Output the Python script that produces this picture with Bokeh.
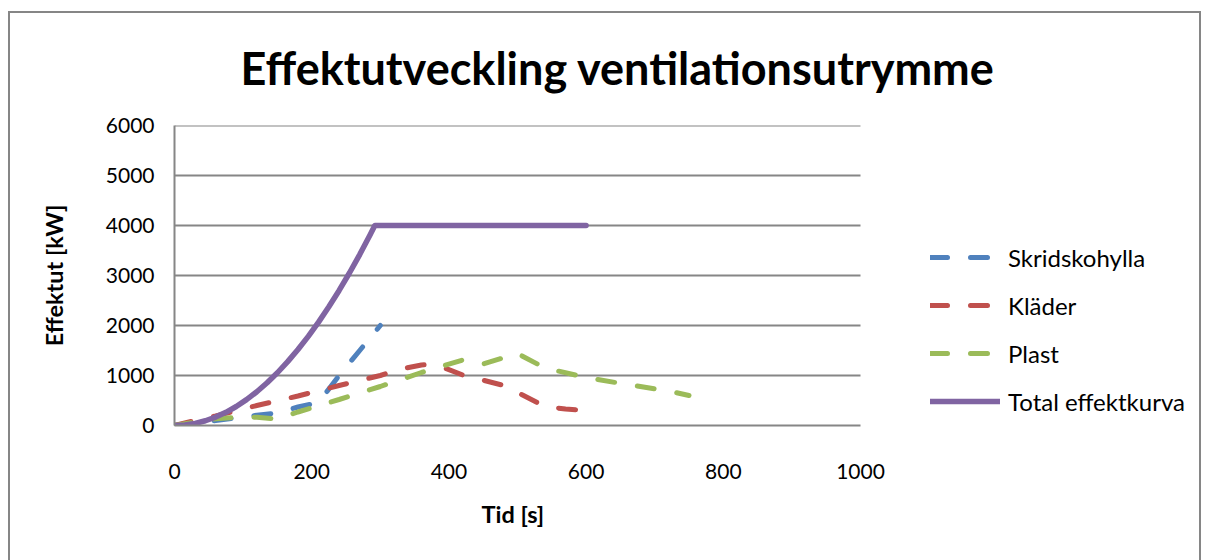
from bokeh.plotting import figure
from bokeh.models import Legend, LegendItem, Title, FixedTicker, Range1d
from bokeh.embed import file_html
from bokeh.resources import INLINE

# ---- data ----
skrid_t = [0, 60, 120, 150, 180, 210, 240, 270, 300]
skrid_q = [0, 100, 205, 250, 370, 460, 1000, 1500, 2000]

klader_t = [0, 30, 60, 120, 180, 240, 300, 330, 360, 380, 420, 480, 540, 570, 600]
klader_q = [0, 100, 190, 400, 590, 800, 1000, 1130, 1210, 1225, 1010, 800, 380, 330, 300]

plast_t = [0, 60, 90, 120, 150, 180, 240, 300, 360, 420, 450, 500, 540, 600, 660, 720, 750]
plast_q = [0, 135, 160, 165, 130, 270, 520, 780, 1060, 1310, 1230, 1440, 1150, 960, 820, 690, 600]

total_t = [0, 15, 30, 45, 60, 75, 90, 105, 120, 135, 150, 165, 180, 195, 210, 225, 240,
           255, 270, 285, 292, 600]
total_q = [0, 11, 42, 95, 169, 264, 380, 517, 675, 855, 1055, 1277, 1520, 1783, 2068,
           2374, 2701, 3050, 3419, 3810, 4000, 4000]

x_ticks = [0, 200, 400, 600, 800, 1000]
y_ticks = [0, 1000, 2000, 3000, 4000, 5000, 6000]

title_text = "Effektutveckling ventilationsutrymme"
x_label = "Tid [s]"
y_label = "Effektut [kW]"
names = ["Skridskohylla", "Kläder", "Plast", "Total effektkurva"]
colors = ["#4F81BD", "#C0504D", "#9BBB59", "#8064A2"]

FONT = "Lato"
GRID = "#868686"

X_MAX = x_ticks[-1]
Y_MAX = y_ticks[-1]
# the plotting frame is widened to the right so that the legend can sit inside it;
# the visible axis/grid only spans 0..X_MAX (686 px of the 1025 px frame)
x_view_end = X_MAX * 1025 / 686

p = figure(width=1206, height=560, output_backend="svg", toolbar_location=None,
           x_range=Range1d(0, x_view_end), y_range=Range1d(0, Y_MAX),
           min_border_left=174, min_border_right=7, min_border_top=125,
           min_border_bottom=135)
p.outline_line_color = None
p.background_fill_color = "white"
p.border_fill_color = "white"

# outer chart border (decorative frame of the whole chart area)
p.stylesheets = [
    ":host { position: relative; }",
    ":host::after { content: ''; position: absolute; left: 8px; top: 11px; right: 5px; bottom: 0px;"
    " border: 2px solid #868686; border-bottom: none; pointer-events: none; }",
]

# axes
p.xaxis.ticker = FixedTicker(ticks=x_ticks)
p.yaxis.ticker = FixedTicker(ticks=y_ticks)
p.xaxis.bounds = (0, X_MAX)
for ax in (p.xaxis[0], p.yaxis[0]):
    ax.axis_line_color = GRID
    ax.axis_line_width = 2
    ax.major_tick_line_color = None
    ax.minor_tick_line_color = None
    ax.major_label_text_font = FONT
    ax.major_label_text_font_size = "21px"
    ax.major_label_text_color = "black"
    ax.axis_label_text_font = FONT
    ax.axis_label_text_font_style = "bold"
    ax.axis_label_text_font_size = "23.5px"
    ax.axis_label_text_color = "black"
p.yaxis.axis_label = y_label
p.yaxis.major_label_standoff = 14
p.xaxis.major_label_standoff = 32
p.yaxis.axis_label_standoff = 35

p.xgrid.grid_line_color = None
p.ygrid.grid_line_color = None
grid_y = [v for v in y_ticks if v > 0]
p.segment(x0=[0] * len(grid_y), x1=[X_MAX] * len(grid_y), y0=grid_y, y1=grid_y,
          line_color=GRID, line_width=2)

DASH = "17 23"
r1 = p.line(skrid_t, skrid_q, line_color=colors[0], line_width=5, line_dash=DASH, line_cap="round")
r2 = p.line(klader_t, klader_q, line_color=colors[1], line_width=5, line_dash=DASH, line_cap="round")
r3 = p.line(plast_t, plast_q, line_color=colors[2], line_width=5, line_dash=DASH, line_cap="round")
r4 = p.line(total_t, total_q, line_color=colors[3], line_width=5.5, line_cap="round", line_join="round")

legend = Legend(items=[LegendItem(label=n, renderers=[r]) for n, r in zip(names, [r1, r2, r3, r4])],
                location=(756, 9), orientation="vertical")
legend.label_text_font = FONT
legend.label_text_font_size = "24px"
legend.label_text_color = "black"
legend.glyph_width = 70
legend.glyph_height = 30
legend.label_height = 30
legend.spacing = 18
legend.padding = 0
legend.margin = 0
legend.label_standoff = 8
legend.border_line_color = None
legend.background_fill_alpha = 0
p.add_layout(legend, "center")

title = Title(text=title_text, text_font=FONT, text_font_style="bold", text_font_size="45px",
              align="left", offset=66, standoff=62, text_color="black")
p.add_layout(title, "above")

# x-axis title, centred under the 0..X_MAX span of the axis
xtitle = Title(text=x_label, text_font=FONT, text_font_style="bold", text_font_size="23.5px",
               align="left", offset=307, standoff=33, text_color="black")
p.add_layout(xtitle, "below")

open("out.html", "w").write(file_html(p, INLINE))
